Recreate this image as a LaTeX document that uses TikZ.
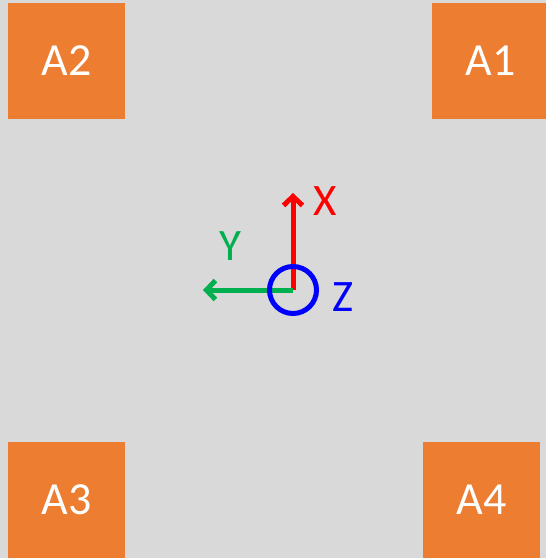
\documentclass[tikz,border=0pt]{standalone}
\usepackage{fontspec}
\setmainfont{Carlito}
\usetikzlibrary{arrows.meta}
\definecolor{bggray}{HTML}{D9D9D9}
\definecolor{boxorange}{HTML}{ED7D31}
\definecolor{axred}{HTML}{FF0000}
\definecolor{axgreen}{HTML}{00B050}
\definecolor{axblue}{HTML}{0000FF}
\tikzset{
  anchorbox/.style={fill=boxorange,minimum width=117pt,minimum height=116pt,
    inner sep=0pt,text=white,font=\fontsize{46}{52}\selectfont},
  axis/.style={line width=5pt,-{Straight Barb[length=9pt,width=19pt]}},
  axlabel/.style={font=\fontsize{45}{50}\selectfont,inner sep=0pt}
}
\begin{document}
\begin{tikzpicture}[x=1pt,y=-1pt]
\fill[bggray] (0,0) rectangle (546,558);
\useasboundingbox (0,0) rectangle (546,558);

\foreach \n/\x/\y in {
  A2/66.5/61,
  A1/490.5/61,
  A3/66.5/500,
  A4/481.5/500}
  \node[anchorbox] (\n) at (\x,\y) {\n};

\coordinate (o) at (293,290);
\coordinate (xtip) at (293,193);
\coordinate (ytip) at (203,290);
\draw[axis,axred] (o) -- (xtip);
\draw[axis,axgreen] (o) -- (ytip);
\node[circle,draw=axblue,line width=5pt,minimum size=47pt,inner sep=0pt] (z) at (o) {};

\node[axlabel,text=axred] (xlab) at (325,201) {X};
\node[axlabel,text=axgreen] (ylab) at (230,246) {Y};
\node[axlabel,text=axblue] (zlab) at (343,297) {Z};
\end{tikzpicture}
\end{document}
